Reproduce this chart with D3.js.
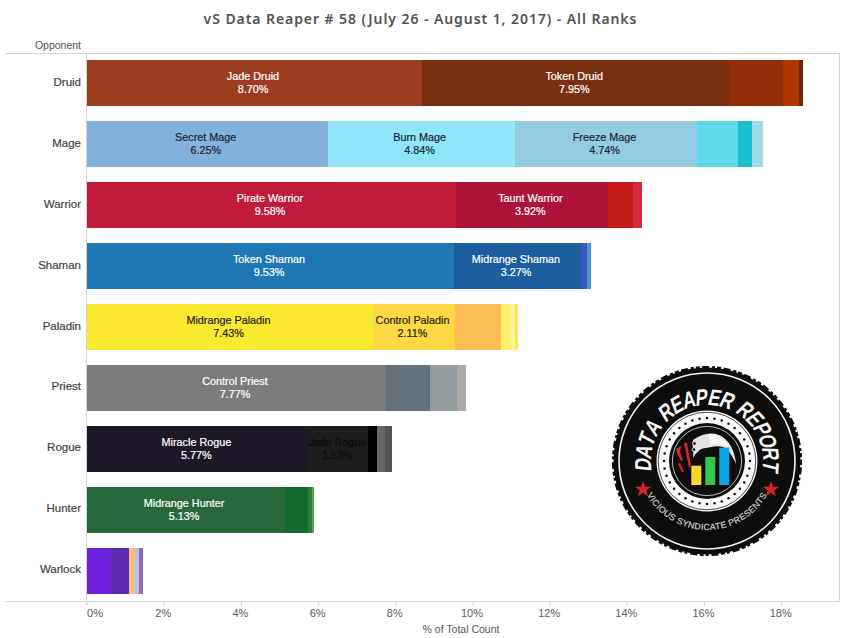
<!DOCTYPE html>
<html>
<head>
<meta charset="utf-8">
<script src="https://cdn.jsdelivr.net/npm/d3@7"></script>
<style>
html,body{margin:0;padding:0;background:#fff;}
svg{display:block;}
text{font-family:"Liberation Sans",Arial,sans-serif;}
</style>
</head>
<body>
<div id="chart"></div>
<script>
const chartTitle = "vS Data Reaper # 58 (July 26 - August 1, 2017) - All Ranks";
const rowHeader = "Opponent";
const axisTitle = "% of Total Count";
const logoTop = "DATA REAPER REPORT";
const logoBottom = "VICIOUS SYNDICATE PRESENTS";
const classes = ["Druid","Mage","Warrior","Shaman","Paladin","Priest","Rogue","Hunter","Warlock"];
const tickValues = [0,2,4,6,8,10,12,14,16,18];

const druidValues   = [8.70,7.95,1.39,0.42,0.10];
const mageValues    = [6.25,4.84,4.74,1.04,0.38,0.29];
const warriorValues = [9.58,3.92,0.67,0.23];
const shamanValues  = [9.53,3.27,0.18,0.08];
const paladinValues = [7.43,2.11,1.21,0.26,0.10,0.06];
const priestValues  = [7.77,1.12,0.72,0.23];
const rogueValues   = [5.77,1.53,0.22,0.21,0.18];
const hunterValues  = [5.13,0.60,0.10,0.05];
const warlockValues = [0.62,0.49,0.14,0.12,0.08];

const druidNames   = ["Jade Druid","Token Druid"];
const mageNames    = ["Secret Mage","Burn Mage","Freeze Mage"];
const warriorNames = ["Pirate Warrior","Taunt Warrior"];
const shamanNames  = ["Token Shaman","Midrange Shaman"];
const paladinNames = ["Midrange Paladin","Control Paladin"];
const priestNames  = ["Control Priest"];
const rogueNames   = ["Miracle Rogue","Jade Rogue"];
const hunterNames  = ["Midrange Hunter"];
const warlockNames = [];

const druidColors   = ["#9c3d20","#7a2f11","#932e08","#ae3600","#6e2509"];
const mageColors    = ["#82b1da","#8fe6f9","#93cbe0","#5fd9ea","#19bed2","#9fdae6"];
const warriorColors = ["#c21b3a","#ab1338","#c41818","#d4283c"];
const shamanColors  = ["#1f77b4","#1b5e9e","#3a56c0","#4a97cb"];
const paladinColors = ["#fbe92f","#ffd844","#ffbe55","#fff16b","#fdf2a0","#fbe84b"];
const priestColors  = ["#7c7c7c","#66727b","#939c9e","#ababab"];
const rogueColors   = ["#1e1728","#1d1d1d","#000000","#666666","#525252"];
const hunterColors  = ["#27693d","#146b31","#2e7d3c","#5aa55c"];
const warlockColors = ["#6b21dc","#5e2cae","#ffbb78","#aec7e8","#9467bd"];

const labelColors = ["#ffffff","#1a2733","#ffffff","#ffffff","#222222","#ffffff","#ffffff","#ffffff","#ffffff"];
const rogueSecondLabelColor = "#0c0c0c";

const allValues = [druidValues,mageValues,warriorValues,shamanValues,paladinValues,priestValues,rogueValues,hunterValues,warlockValues];
const allNames  = [druidNames,mageNames,warriorNames,shamanNames,paladinNames,priestNames,rogueNames,hunterNames,warlockNames];
const allColors = [druidColors,mageColors,warriorColors,shamanColors,paladinColors,priestColors,rogueColors,hunterColors,warlockColors];

const W = 848, H = 638;
const svg = d3.select("#chart").append("svg").attr("width",W).attr("height",H);

const x = d3.scaleLinear().domain([0,18]).range([86.6,781.2]);
const y = d3.scaleBand().domain(classes).range([60,594]).paddingInner(15/61).paddingOuter(0);
const rowLabelY = d3.scalePoint().domain(classes).range([86,573]);

const frame = "#d4d4d4";
[[6,53.5,839.5,53.5],[6,601.5,839.5,601.5],[86.5,53.5,86.5,605],[839.5,53.5,839.5,601.5]].forEach(l=>{
  svg.append("line").attr("x1",l[0]).attr("y1",l[1]).attr("x2",l[2]).attr("y2",l[3])
     .attr("stroke",frame).attr("stroke-width",1);
});

svg.append("text").attr("x",420.5).attr("y",24).attr("text-anchor","middle")
   .style("font-family","'Noto Sans','DejaVu Sans',sans-serif").style("font-weight",600)
   .style("font-size","14px").style("letter-spacing","0.93px").attr("fill","#525252").text(chartTitle);

svg.append("text").attr("x",81).attr("y",49).attr("text-anchor","end")
   .style("font-size","10.5px").attr("fill","#555").text(rowHeader);

classes.forEach((c,i)=>{
  const g = svg.append("g");
  let cum = 0;
  const segs = allValues[i].map((v,j)=>{
    const s = {v,start:cum,end:cum+v,color:allColors[i][j],name:allNames[i][j]};
    cum += v; return s;
  });
  g.selectAll("rect").data(segs).join("rect")
    .attr("x",d=>x(d.start)).attr("width",d=>x(d.end)-x(d.start))
    .attr("y",y(c)).attr("height",y.bandwidth()).attr("fill",d=>d.color)
    .attr("shape-rendering","crispEdges");
  const mid = y(c)+y.bandwidth()/2;
  segs.filter(d=>d.name).forEach((d,j)=>{
    const col = (c==="Rogue"&&j===1)?rogueSecondLabelColor:labelColors[i];
    const cx = x((d.start+d.end)/2)-1.5;
    [d.name, d.v.toFixed(2)+"%"].forEach((t,k)=>{
      g.append("text").attr("x",cx).attr("y",k===0?mid-2.7:mid+10.4).attr("text-anchor","middle")
        .style("font-size","10.8px").attr("fill",col).attr("stroke",col).attr("stroke-width",0.2).text(t);
    });
  });
  svg.append("text").attr("x",81).attr("y",rowLabelY(c))
     .attr("text-anchor","end").style("font-size","11.5px").attr("fill","#444")
     .attr("stroke","#444").attr("stroke-width",0.2).text(c);
});

const axis = d3.axisBottom(x).tickValues(tickValues).tickFormat(d=>d+"%").tickSizeOuter(0).tickSizeInner(4).tickPadding(4);
const ag = svg.append("g").attr("transform","translate(0,601.5)").call(axis);
ag.select(".domain").remove();
ag.selectAll(".tick line").attr("stroke",frame);
ag.selectAll(".tick text").attr("fill","#5c5c5c").style("font-size","11px")
  .attr("text-anchor",d=>d===0?"start":"middle").attr("dx",d=>d===0?"0":"-1");

svg.append("text").attr("x",461).attr("y",633).attr("text-anchor","middle")
   .style("font-size","10.5px").attr("fill","#555").text(axisTitle);

/* logo */
const logo = svg.append("g").attr("transform","translate(707,461)");
const defs = svg.append("defs");
const polar=(r,deg)=>{const a=deg*Math.PI/180;return [r*Math.sin(a),-r*Math.cos(a)];};

logo.append("circle").attr("r",93.5).attr("fill","#0d0d0d");
logo.append("circle").attr("r",93.8).attr("fill","none").attr("stroke","#0d0d0d").attr("stroke-width",2.6).attr("stroke-dasharray","4 2.5 7 3 3 2");
logo.append("circle").attr("r",88).attr("fill","none").attr("stroke","#f2f2f2").attr("stroke-width",1.6);

const topChars = logoTop.split("");
const weights = topChars.map(ch=>ch===" "?0.55:1);
const total = d3.sum(weights);
let acc = 0;
const span = 200;
topChars.forEach((ch,i)=>{
  const deg = -span/2 + (acc + weights[i]/2)/total*span;
  acc += weights[i];
  if(ch===" ") return;
  logo.append("text")
    .attr("transform",`rotate(${deg}) translate(0,-56) skewX(-10) scale(0.78,1)`)
    .attr("text-anchor","middle")
    .style("font-size","23px").style("font-weight",700).attr("fill","#f6f6f6").text(ch);
});

const [bx0,by0]=polar(69,-120),[bx1,by1]=polar(69,120);
defs.append("path").attr("id","logoBottomArc").attr("d",`M${bx0},${by0}A69,69 0 0 0 ${bx1},${by1}`);
logo.append("text").style("font-size","8.8px").attr("fill","#cfcfcf").attr("stroke","#cfcfcf").attr("stroke-width",0.2)
  .append("textPath").attr("href","#logoBottomArc").attr("startOffset","50%").attr("text-anchor","middle")
  .style("letter-spacing","0.3px").text(logoBottom);

[-114,114].forEach(deg=>{
  const [sx,sy]=polar(70,deg);
  logo.append("path").attr("transform",`translate(${sx},${sy})`)
    .attr("d",d3.symbol(d3.symbolStar,85)()).attr("fill","#d8232a");
});

logo.append("circle").attr("r",50.5).attr("fill","#fafafa");
logo.append("circle").attr("r",48.8).attr("fill","none").attr("stroke","#222").attr("stroke-width",0.8);
logo.selectAll("circle.dot").data(d3.range(36)).join("circle").attr("class","dot")
  .attr("r",1.25).attr("fill","#111")
  .attr("cx",d=>43*Math.sin(d*10*Math.PI/180)).attr("cy",d=>-43*Math.cos(d*10*Math.PI/180));
logo.append("circle").attr("r",38).attr("fill","#0d0d0d");
logo.append("circle").attr("r",34.6).attr("fill","none").attr("stroke","#e8e8e8").attr("stroke-width",0.8);

logo.append("path").attr("d","M-14,-21C-6,-27 4,-29 12,-26C22,-22 28,-10 29,3C25,-6 21,-12 16,-14C10,-16 4,-14 -1,-13C-7,-13 -11,-8 -14,-3C-13,-10 -15,-15 -14,-21Z").attr("fill","#e4e4e4");
logo.append("path").attr("d","M2,-27C10,-27 18,-21 22,-14C17,-17 10,-18 3,-16Z").attr("fill","#f8f8f8");
logo.append("circle").attr("cx",-12.5).attr("cy",-17.5).attr("r",1.9).attr("fill","#111").attr("stroke","#eee").attr("stroke-width",1);
logo.append("circle").attr("cx",-13).attr("cy",-11.5).attr("r",1.9).attr("fill","#111").attr("stroke","#eee").attr("stroke-width",1);
logo.append("path").attr("d","M-31,-12L-26,-15L-27,-9L-24,-1L-26,0L-30,-8ZM-23,-18L-20,-18L-16,5L-18,7ZM-29,3L-27,2L-23,11L-25,11Z").attr("fill","#d8232a");

const logoBarHeights = [19.3,28,37.3];
const logoBarColors = ["#fcd72b","#2fc84a","#0aa4ea"];
const lx = d3.scaleBand().domain([0,1,2]).range([-15.7,22.3]).paddingInner(0.28);
const ly = d3.scaleLinear().domain([0,40]).range([24,-16]);
logo.selectAll("rect.lb").data(logoBarHeights).join("rect").attr("class","lb")
  .attr("x",(d,i)=>lx(i)).attr("width",lx.bandwidth())
  .attr("y",d=>ly(d)).attr("height",d=>ly(0)-ly(d)).attr("fill",(d,i)=>logoBarColors[i]);
</script>
</body>
</html>
